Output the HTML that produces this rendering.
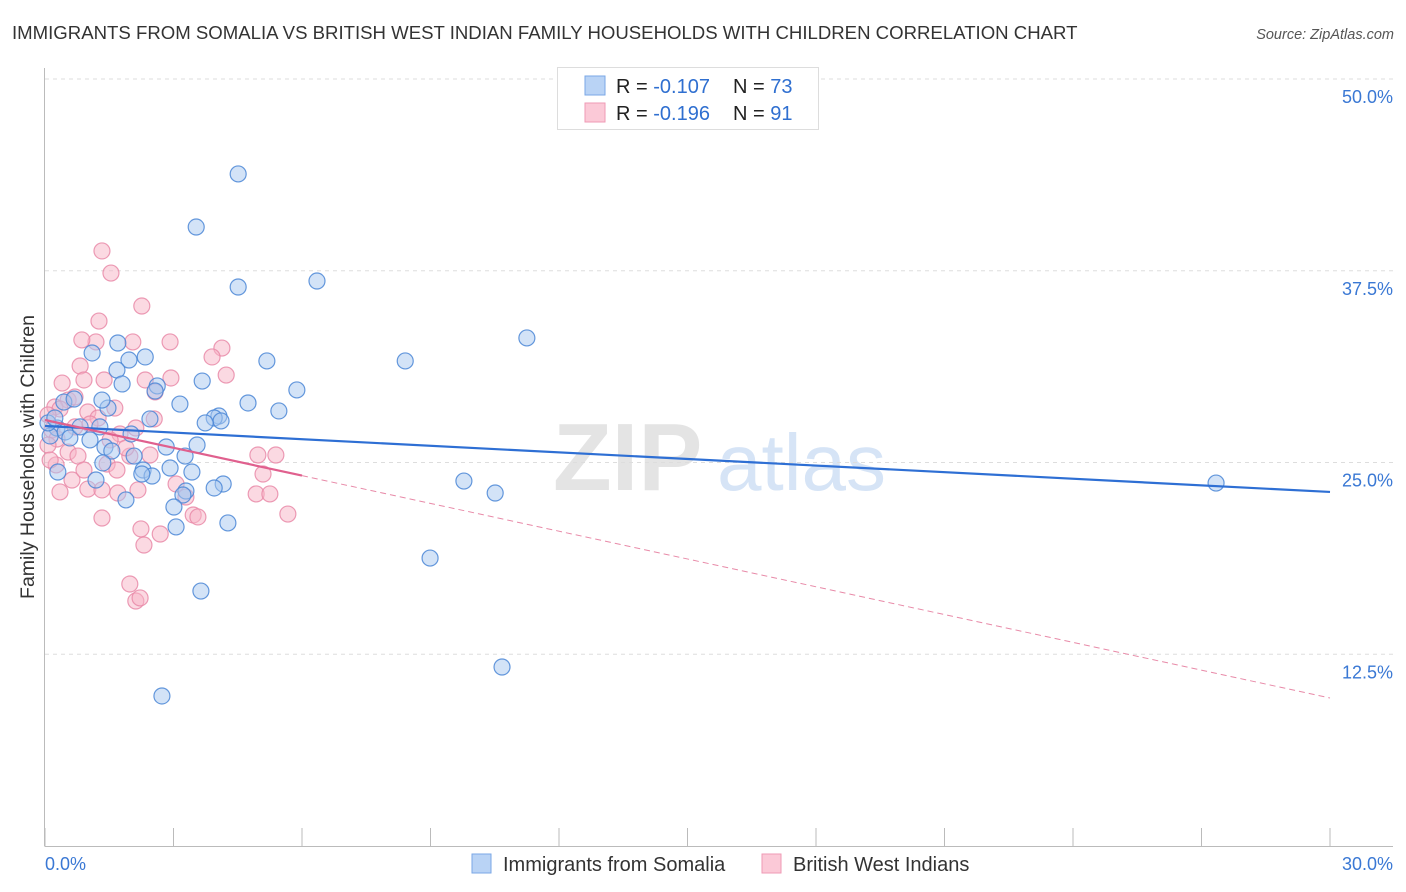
<!DOCTYPE html>
<html><head><meta charset="utf-8">
<style>
body{margin:0;background:#fff;font-family:"Liberation Sans",sans-serif;}
#wrap{position:relative;width:1406px;height:892px;overflow:hidden;}
svg text{font-family:"Liberation Sans",sans-serif;}
</style></head>
<body><div id="wrap">
<svg id="chart" width="1406" height="892">
<text x="12" y="39" font-size="18.6" fill="#333">IMMIGRANTS FROM SOMALIA VS BRITISH WEST INDIAN FAMILY HOUSEHOLDS WITH CHILDREN CORRELATION CHART</text>
<text x="1394" y="39" font-size="14.5" fill="#555" font-style="italic" text-anchor="end">Source: ZipAtlas.com</text>
<g>
<text x="553" y="490" font-size="96" fill="#e4e4e4" font-family="Liberation Serif" font-weight="bold">ZIP</text>
<text x="717" y="490" font-size="80" fill="#d6e4f6">atlas</text>
</g>
<g id="grid"></g>
<g id="axes"></g>
<g id="marks"></g>
<text transform="translate(34,457) rotate(-90)" font-size="19.5" fill="#333" text-anchor="middle">Family Households with Children</text>
<g>
<rect x="557.5" y="67.5" width="261" height="62" fill="#fff" stroke="#ddd"/>
<rect x="585" y="76" width="20" height="19" fill="#b9d3f5" stroke="#7aa7e6"/>
<rect x="585" y="103" width="20" height="19" fill="#fbc9d7" stroke="#ef9ab4"/>
<text x="616" y="93" font-size="20" fill="#222">R = <tspan fill="#2f6fd0">-0.107</tspan><tspan x="733">N = </tspan><tspan fill="#2f6fd0">73</tspan></text>
<text x="616" y="120" font-size="20" fill="#222">R = <tspan fill="#2f6fd0">-0.196</tspan><tspan x="733">N = </tspan><tspan fill="#2f6fd0"> 91</tspan></text>
</g>
<g>
<rect x="472" y="854" width="19" height="19" fill="#b9d3f5" stroke="#7aa7e6"/>
<text x="503" y="871" font-size="20" fill="#333">Immigrants from Somalia</text>
<rect x="762" y="854" width="19" height="19" fill="#fbc9d7" stroke="#ef9ab4"/>
<text x="793" y="871" font-size="20" fill="#333">British West Indians</text>
</g>
</svg>
<script>
const xTicks=[0,3,6,9,12,15,18,21,24,27,30];
const yTicks=[12.5,25,37.5,50];
const yTickLabels=["12.5%","25.0%","37.5%","50.0%"];
const somaliaX=[4.51,3.53,4.51,6.35,11.25,8.41,5.18,1.10,1.70,2.34,1.96,1.68,1.80,2.62,2.57,3.67,5.88,3.15,4.74,5.46,4.06,3.95,4.11,3.74,2.45,1.47,1.33,0.44,0.68,2.01,1.05,1.40,1.56,3.55,2.83,2.08,3.27,0.28,0.12,0.47,0.58,2.29,2.50,3.43,2.26,0.30,1.19,1.35,2.92,4.16,3.95,3.29,3.22,1.89,3.01,3.06,4.27,9.78,10.51,27.34,8.99,3.64,10.67,2.73,0.07,0.23,0.82,1.28];
const somaliaY=[43.81,40.35,36.44,36.83,33.12,31.62,31.62,32.14,32.79,31.88,31.68,31.03,30.12,29.99,29.66,30.31,29.73,28.81,28.88,28.36,28.03,27.90,27.71,27.58,27.84,28.55,29.07,28.94,29.14,26.86,26.47,26.01,25.75,26.14,26.01,25.42,25.42,27.25,26.73,26.99,26.60,24.51,24.12,24.38,24.25,24.38,23.86,24.97,24.64,23.60,23.34,23.14,22.88,22.56,22.10,20.80,21.06,23.79,23.01,23.66,18.77,16.62,11.67,9.78,27.58,27.90,27.32,27.32];
const bwiX=[1.33,1.54,2.26,1.26,1.19,0.86,2.05,2.92,4.13,3.90,0.82,0.91,1.38,0.40,2.34,2.94,2.57,4.23,0.54,0.70,0.23,0.35,1.00,1.24,1.63,2.55,0.07,0.16,0.28,0.70,1.05,1.75,2.12,0.54,0.77,1.45,1.68,1.98,0.26,0.35,1.00,1.33,1.70,2.17,4.97,5.39,5.09,3.06,3.29,3.46,3.57,4.93,5.25,5.67,1.33,2.24,2.69,2.31,1.98,2.12,2.22,0.07,0.12,0.63,0.91,1.52,1.89,2.45];
const bwiY=[38.79,37.35,35.20,34.22,32.86,32.99,32.86,32.86,32.46,31.88,31.29,30.38,30.38,30.18,30.38,30.51,29.60,30.70,29.07,29.27,28.62,28.49,28.29,27.90,28.55,27.84,28.10,27.12,26.53,27.32,27.51,26.86,27.25,25.68,25.42,24.90,24.51,25.42,24.84,23.08,23.27,23.21,23.01,23.21,25.49,25.49,24.25,23.60,22.75,21.58,21.45,22.95,22.95,21.64,21.38,20.67,20.34,19.62,17.08,15.97,16.17,26.14,25.16,23.86,24.51,26.47,25.95,25.49];
const somaliaTrend=[27.38,23.08];
const bwiTrend=[27.77,9.65];
const bwiSolidEnd=6;

const X0=45,X1=1330,Y0=846,YTOP=79;
const sx=v=>X0+(v-0)/30*(X1-X0);
const sy=v=>Y0-(v/50)*(Y0-YTOP);
const NS="http://www.w3.org/2000/svg";
function mk(tag,attrs,parent){const e=document.createElementNS(NS,tag);for(const k in attrs)e.setAttribute(k,attrs[k]);parent.appendChild(e);return e;}
const grid=document.getElementById('grid'),axes=document.getElementById('axes'),marks=document.getElementById('marks');
yTicks.forEach((t,i)=>{
 const l=mk('line',{x1:45,x2:1393,y1:sy(t),y2:sy(t),stroke:'#ddd','stroke-dasharray':'4,4'},grid);
 
 
 const tx=mk('text',{x:1393,y:sy(t)+24,'font-size':18,fill:'#3a78d4','text-anchor':'end'},axes);
 tx.textContent=yTickLabels[i];
 
 
});
mk('line',{x1:44.5,x2:44.5,y1:68,y2:846,stroke:'#bbb'},axes);
mk('line',{x1:44.5,x2:1393,y1:846.5,y2:846.5,stroke:'#bbb'},axes);
xTicks.forEach(t=>{
 const l=mk('line',{x1:sx(t),x2:sx(t),y1:828,y2:846,stroke:'#bbb'},axes);
 
 
});
const xl0=mk('text',{x:45,y:870,'font-size':18,fill:'#3a78d4'},axes);xl0.textContent=xTicks[0].toFixed(1)+'%';


const xl1=mk('text',{x:1393,y:870,'font-size':18,fill:'#3a78d4','text-anchor':'end'},axes);xl1.textContent=xTicks[xTicks.length-1].toFixed(1)+'%';


function dots(xs,ys,fill,stroke,name){
 xs.forEach((x,i)=>{
  const c=mk('circle',{cx:sx(x),cy:sy(ys[i]),r:8,fill:fill,'fill-opacity':0.5,stroke:stroke,'stroke-width':1.2,'stroke-opacity':0.85},marks);
  
  
 });
}
dots(bwiX,bwiY,'#f7b3c6','#e98aa8','bwi-point');
dots(somaliaX,somaliaY,'#a8c7f0','#4a86d6','somalia-point');
const sl=mk('line',{x1:sx(0),y1:sy(somaliaTrend[0]),x2:sx(30),y2:sy(somaliaTrend[1]),stroke:'#2e6fd4','stroke-width':2.2},marks);


const by=x=>bwiTrend[0]+(bwiTrend[1]-bwiTrend[0])*x/30;
const bs=mk('line',{x1:sx(0),y1:sy(by(0)),x2:sx(bwiSolidEnd),y2:sy(by(bwiSolidEnd)),stroke:'#e0608e','stroke-width':2.2},marks);


const bd=mk('line',{x1:sx(bwiSolidEnd),y1:sy(by(bwiSolidEnd)),x2:sx(30),y2:sy(by(30)),stroke:'#e88aa8','stroke-width':1,'stroke-dasharray':'6,4'},marks);


</script>
</div></body></html>
